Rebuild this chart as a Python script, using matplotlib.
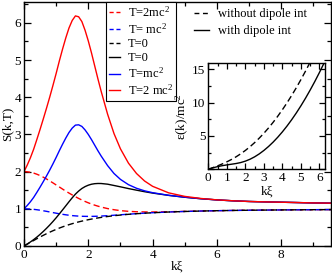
import matplotlib
matplotlib.use("Agg")
import matplotlib.pyplot as plt
from matplotlib.lines import Line2D
from matplotlib.ticker import MultipleLocator

plt.rcParams['font.family'] = ['Liberation Serif', 'DejaVu Serif']
plt.rcParams['mathtext.fontset'] = 'custom'
plt.rcParams['mathtext.rm'] = 'Liberation Serif'
plt.rcParams['mathtext.it'] = 'Liberation Serif:italic'

# ---- main panel data: S(k,T) vs k xi ----
k = [0, 0.1, 0.2, 0.3, 0.4, 0.5, 0.6, 0.7, 0.8, 0.9, 1.0, 1.1, 1.2, 1.3, 1.4,
     1.5, 1.6, 1.7, 1.8, 1.9, 2.0, 2.1, 2.2, 2.3, 2.4, 2.6, 2.8, 3.0, 3.25,
     3.5, 3.75, 4.0, 4.5, 5.0, 5.5, 6.0, 6.5, 7.0, 7.5, 8.0, 8.5, 9.0, 9.6]

# without dipole interaction (dashed)
s_t2_nodip = [2.00, 1.995, 1.982, 1.960, 1.930, 1.893, 1.850, 1.802, 1.751, 1.697,
              1.6415, 1.586, 1.530, 1.4756, 1.423, 1.3724, 1.324, 1.279, 1.237,
              1.1975, 1.161, 1.128, 1.098, 1.071, 1.047, 1.006, 0.975, 0.951,
              0.932, 0.921, 0.916, 0.915, 0.921, 0.931, 0.940, 0.949, 0.956,
              0.9615, 0.966, 0.970, 0.973, 0.976, 0.979]
s_t1_nodip = [1.00, 0.998, 0.993, 0.9855, 0.975, 0.962, 0.947, 0.932, 0.915, 0.898,
              0.882, 0.866, 0.852, 0.8385, 0.827, 0.817, 0.8095, 0.8035, 0.799,
              0.797, 0.796, 0.7965, 0.798, 0.801, 0.805, 0.815, 0.827, 0.8395,
              0.855, 0.870, 0.883, 0.895, 0.914, 0.9285, 0.940, 0.949, 0.956,
              0.9615, 0.966, 0.970, 0.973, 0.976, 0.979]
s_t0_nodip = [0, 0.050, 0.0995, 0.148, 0.196, 0.2425, 0.287, 0.330, 0.371, 0.410,
              0.447, 0.482, 0.5145, 0.545, 0.5735, 0.600, 0.625, 0.648, 0.669,
              0.689, 0.707, 0.724, 0.740, 0.755, 0.768, 0.793, 0.814, 0.832,
              0.852, 0.868, 0.882, 0.894, 0.914, 0.928, 0.940, 0.949, 0.956,
              0.9615, 0.966, 0.970, 0.973, 0.976, 0.979]

# with dipole interaction (solid)
s_t0_dip = [0, 0.052, 0.109, 0.171, 0.239, 0.3125, 0.391, 0.475, 0.564, 0.6585,
            0.758, 0.863, 0.971, 1.080, 1.190, 1.296, 1.395, 1.477, 1.546, 1.597,
            1.635, 1.661, 1.6755, 1.681, 1.680, 1.662, 1.627, 1.591, 1.544, 1.501,
            1.460, 1.423, 1.361, 1.311, 1.271, 1.239, 1.215, 1.197, 1.186, 1.177,
            1.168, 1.158, 1.151]
s_t1_dip = [1.00, 1.088, 1.190, 1.306, 1.442, 1.583, 1.731, 1.882, 2.041, 2.208,
            2.382, 2.563, 2.737, 2.902, 3.052, 3.170, 3.250, 3.258, 3.215, 3.120,
            2.999, 2.860, 2.710, 2.560, 2.419, 2.162, 1.949, 1.791, 1.649, 1.552,
            1.4835, 1.4335, 1.363, 1.312, 1.271, 1.239, 1.215, 1.197, 1.186, 1.177,
            1.168, 1.158, 1.151]
s_t2_dip = [2.00, 2.174, 2.374, 2.601, 2.864, 3.135, 3.416, 3.704, 4.003, 4.316,
            4.639, 4.977, 5.296, 5.595, 5.862, 6.064, 6.186, 6.163, 6.034, 5.799,
            5.513, 5.189, 4.840, 4.492, 4.159, 3.545, 3.022, 2.613, 2.227, 1.949,
            1.748, 1.605, 1.429, 1.334, 1.278, 1.2405, 1.216, 1.197, 1.186, 1.177,
            1.168, 1.158, 1.151]

# ---- inset data: epsilon(k)/mc^2 vs k xi ----
k_in = [0, 0.25, 0.5, 0.75, 1.0, 1.25, 1.5, 1.75, 2.0, 2.25, 2.5, 2.75, 3.0,
        3.25, 3.5, 3.75, 4.0, 4.25, 4.5, 4.75, 5.0, 5.25, 5.5, 5.75, 6.0, 6.25, 6.5]
eps_nodip = [0, 0.2519, 0.5154, 0.8010, 1.1180, 1.4741, 1.875, 2.3253, 2.8284,
             3.3867, 4.0020, 4.6755, 5.4083, 6.2011, 7.0544, 7.9688, 8.9443,
             9.9813, 11.0799, 12.2405, 13.4629, 14.7474, 16.0941, 17.5027,
             18.97, 20.49, 22.07]
eps_dip = [0, 0.2244, 0.40, 0.5419, 0.6596, 0.7624, 0.8682, 1.0118, 1.2231,
           1.5074, 1.870, 2.3110, 2.8286, 3.4195, 4.0817, 4.8170, 5.6214,
           6.4963, 7.4393, 8.4516, 9.5316, 10.680, 11.898, 13.179, 14.531,
           15.949, 17.38]

labels_T = ['T=2mc$^2$', 'T= mc$^2$', 'T=0', 'T=0', 'T=mc$^2$', 'T=2 mc$^2$']
labels_int = ['without dipole int', 'with dipole int']

fig = plt.figure(figsize=(3.32, 2.75), dpi=100)
ax = fig.add_axes([24/332, 29/275, 307/332, 244/275])

dash = (4.5, 2.5)
lw = 1.0
ax.plot(k, s_t2_nodip, color='#ff0000', lw=lw, dashes=dash)
ax.plot(k, s_t1_nodip, color='#0000ff', lw=lw, dashes=dash)
ax.plot(k, s_t0_nodip, color='black', lw=lw, dashes=dash)
ax.plot(k, s_t0_dip, color='black', lw=lw)
ax.plot(k, s_t1_dip, color='#0000ff', lw=lw)
ax.plot(k, s_t2_dip, color='#ff0000', lw=lw)

ax.set_xlim(0, 9.55)
ax.set_ylim(0, 6.56)
ax.xaxis.set_major_locator(MultipleLocator(2))
ax.xaxis.set_minor_locator(MultipleLocator(1))
ax.yaxis.set_major_locator(MultipleLocator(1))
ax.yaxis.set_minor_locator(MultipleLocator(0.5))
ax.tick_params(which='both', direction='in', top=True, right=True,
               labelsize=9.5, width=0.9, pad=2)
ax.tick_params(which='major', length=5)
ax.tick_params(which='minor', length=3)
for s in ax.spines.values():
    s.set_linewidth(1.0)
ax.set_xlabel('kξ', fontsize=9.5, labelpad=0)
ax.set_ylabel('S(k,T)', fontsize=9.5, labelpad=1)

ldash = (3.0, 2.0)
hT = [Line2D([], [], color='#ff0000', lw=lw, dashes=ldash),
      Line2D([], [], color='#0000ff', lw=lw, dashes=ldash),
      Line2D([], [], color='black', lw=lw, dashes=ldash),
      Line2D([], [], color='black', lw=lw),
      Line2D([], [], color='#0000ff', lw=lw),
      Line2D([], [], color='#ff0000', lw=lw)]
leg1 = ax.legend(hT, labels_T,
                 loc='upper left', bbox_to_anchor=(0.267, 1.0), fontsize=9,
                 frameon=True, fancybox=False, edgecolor='black', framealpha=1,
                 handlelength=0.9, handletextpad=0.6, labelspacing=0.16,
                 borderpad=0.25, borderaxespad=0)
leg1.get_frame().set_linewidth(0.8)
ax.add_artist(leg1)

hI = [Line2D([], [], color='black', lw=lw, dashes=(3.5, 2.6)),
      Line2D([], [], color='black', lw=lw)]
ax.legend(hI, labels_int,
          loc='upper left', bbox_to_anchor=(0.535, 1.0), fontsize=9,
          frameon=False, handlelength=1.15, handletextpad=0.75,
          labelspacing=0.4, borderaxespad=0.1)

# inset
axi = fig.add_axes([208.3/332, (275-169.3)/275, 116.7/332, 106.6/275])
axi.plot(k_in, eps_nodip, color='black', lw=lw, dashes=dash)
axi.plot(k_in, eps_dip, color='black', lw=lw)
axi.set_xlim(0, 6.3)
axi.set_ylim(0, 16)
axi.xaxis.set_major_locator(MultipleLocator(1))
axi.xaxis.set_minor_locator(MultipleLocator(0.5))
axi.set_yticks([0, 5, 10, 15])
axi.set_yticklabels(['', '5', '10', '15'])
axi.yaxis.set_minor_locator(MultipleLocator(2.5))
axi.tick_params(which='both', direction='in', top=True, right=True,
                labelsize=9.5, width=0.9, pad=2)
axi.tick_params(which='major', length=4)
axi.tick_params(which='minor', length=2.5)
for s in axi.spines.values():
    s.set_linewidth(1.0)
axi.set_xlabel('kξ', fontsize=9.5, labelpad=1)
axi.set_ylabel('ε(k)/mc$^2$', fontsize=9.5, labelpad=1)

fig.savefig('out.png', dpi=100)
